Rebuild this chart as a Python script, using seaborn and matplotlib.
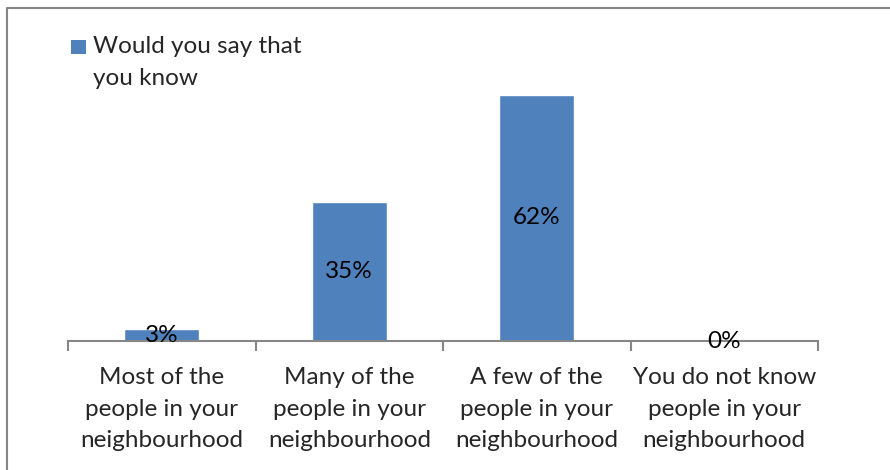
import matplotlib
matplotlib.use("Agg")
import matplotlib.pyplot as plt
import seaborn as sns
import pandas as pd
from matplotlib.lines import Line2D
from matplotlib.patches import Rectangle

categories = ["Most of the\npeople in your\nneighbourhood",
              "Many of the\npeople in your\nneighbourhood",
              "A few of the\npeople in your\nneighbourhood",
              "You do not know\npeople in your\nneighbourhood"]
values = [3, 35, 62, 0]
labels = ["3%", "35%", "62%", "0%"]
series_name = "Would you say that\nyou know"

sns.set_style("white")
plt.rcParams['font.family'] = ['Lato', 'DejaVu Sans']

W, H = 890, 470
FS = 17.5
fig = plt.figure(figsize=(W/100, H/100), dpi=100)
ax = fig.add_axes([68/W, (H-341)/H, 750/W, (341-63)/H])

df = pd.DataFrame({"cat": categories, "val": values})
sns.barplot(data=df, x="cat", y="val", color="#4F81BD", saturation=1,
            width=0.4, ax=ax)
ax.set_xlim(-0.5, 3.5)
ax.set_ylim(0, 70)

for i, (v, t) in enumerate(zip(values, labels)):
    ax.text(i, v/2, t, ha="center", va="center", fontsize=FS, color="#000000")

for s in ["left", "right", "top"]:
    ax.spines[s].set_visible(False)
ax.spines["bottom"].set_color("#868686")
ax.spines["bottom"].set_linewidth(1.5)
ax.set_yticks([])
ax.set_xlabel("")
ax.set_ylabel("")
ax.set_xticks(range(4))
ax.set_xticklabels(categories, fontsize=FS, linespacing=1.6)
ax.tick_params(axis="x", which="major", length=0, pad=19, bottom=True)
ax.set_xticks([-0.5, 0.5, 1.5, 2.5, 3.5], minor=True)
ax.tick_params(axis="x", which="minor", length=7, width=1.5, color="#868686",
               bottom=True, direction="out")

# legend
fig.patches.append(Rectangle((71/W, 1-54/H), 15/W, 14/H, transform=fig.transFigure,
                             facecolor="#4F81BD", edgecolor="none"))
fig.text(93/W, 1-36/H, series_name, ha="left", va="top", fontsize=FS, linespacing=1.65)

# chart border (left and top visible)
fig.add_artist(Line2D([7/W, 7/W, 1], [0, 1-7.5/H, 1-7.5/H], transform=fig.transFigure,
                      color="#868686", linewidth=1.5))

fig.savefig("out.png", dpi=100)
